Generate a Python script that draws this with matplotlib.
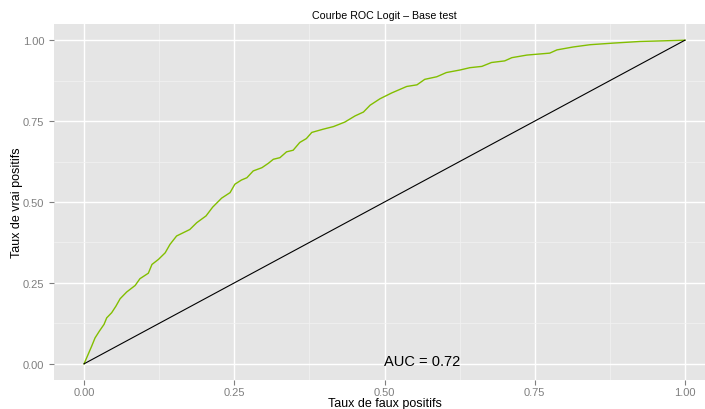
import matplotlib
matplotlib.use("Agg")
import matplotlib.pyplot as plt
from matplotlib.ticker import MultipleLocator

plt.rcParams['font.family'] = ['Liberation Sans', 'DejaVu Sans']

# ROC curve of the logit model on the test set
fpr = [0.0, 0.0055, 0.0128, 0.0183, 0.0255, 0.0333, 0.0377, 0.046, 0.053, 0.060,
       0.071, 0.085, 0.093, 0.107, 0.113, 0.124, 0.135, 0.143, 0.154, 0.176,
       0.1875, 0.203, 0.214, 0.229, 0.243, 0.251, 0.262, 0.271, 0.2815, 0.296,
       0.307, 0.315, 0.326, 0.337, 0.348, 0.359, 0.370, 0.379, 0.398, 0.415,
       0.434, 0.451, 0.465, 0.476, 0.4925, 0.512, 0.537, 0.554, 0.567, 0.587,
       0.603, 0.626, 0.642, 0.662, 0.678, 0.700, 0.712, 0.737, 0.775, 0.787,
       0.814, 0.842, 0.881, 0.925, 0.964, 1.0]
tpr = [0.0, 0.0235, 0.055, 0.080, 0.101, 0.122, 0.142, 0.158, 0.178, 0.201,
       0.222, 0.242, 0.263, 0.280, 0.307, 0.323, 0.343, 0.369, 0.395, 0.415,
       0.436, 0.457, 0.484, 0.512, 0.529, 0.555, 0.568, 0.575, 0.596, 0.606,
       0.620, 0.632, 0.637, 0.655, 0.660, 0.684, 0.696, 0.715, 0.725, 0.733,
       0.747, 0.766, 0.778, 0.799, 0.819, 0.837, 0.857, 0.862, 0.879, 0.887,
       0.900, 0.908, 0.915, 0.919, 0.931, 0.936, 0.946, 0.954, 0.960, 0.970,
       0.979, 0.986, 0.991, 0.996, 0.998, 1.0]
diag = [0.0, 1.0]
auc = 0.72

tick_values = [0.0, 0.25, 0.5, 0.75, 1.0]
tick_labels = ["0.00", "0.25", "0.50", "0.75", "1.00"]

fig = plt.figure(figsize=(7.05, 4.10), dpi=100)
ax = fig.add_axes([54 / 705, 29 / 410, 661 / 705, 356 / 410])

ax.set_facecolor('#E5E5E5')
for s in ax.spines.values():
    s.set_visible(False)

ax.set_xlim(-0.05, 1.05)
ax.set_ylim(-0.05, 1.05)

ax.xaxis.set_minor_locator(MultipleLocator(0.125))
ax.yaxis.set_minor_locator(MultipleLocator(0.125))
ax.set_xticks(tick_values)
ax.set_xticklabels(tick_labels)
ax.set_yticks(tick_values)
ax.set_yticklabels(tick_labels)

ax.grid(which='major', color='white', linewidth=1.0)
ax.grid(which='minor', color='#F2F2F2', linewidth=0.5)
ax.set_axisbelow(True)

ax.tick_params(which='major', length=3.5, width=0.8, color='#7F7F7F',
               labelcolor='#7F7F7F', labelsize=8)
ax.tick_params(axis='x', which='major', pad=1.5)
ax.tick_params(axis='y', which='major', pad=3.5)
ax.tick_params(which='minor', length=0)

ax.plot(fpr, tpr, color='#82BE00', linewidth=1.0, solid_joinstyle='miter')
ax.plot(diag, diag, color='black', linewidth=0.8)

ax.text(0.5, -0.004, f"AUC = {auc:.2f}", ha='left', va='baseline',
        fontsize=10.5, color='black')

fig.text(384 / 705, 1 - 16 / 410, "Courbe ROC Logit \u2013 Base test",
         ha='center', va='center', fontsize=7.7, color='black')
fig.text(385 / 705, 1 - 404 / 410, "Taux de faux positifs",
         ha='center', va='center', fontsize=9, color='black')
fig.text(17.5 / 705, 1 - 203 / 410, "Taux de vrai positifs",
         ha='center', va='center', rotation=90, fontsize=9, color='black')

fig.savefig("out.png", dpi=100, facecolor='white')
